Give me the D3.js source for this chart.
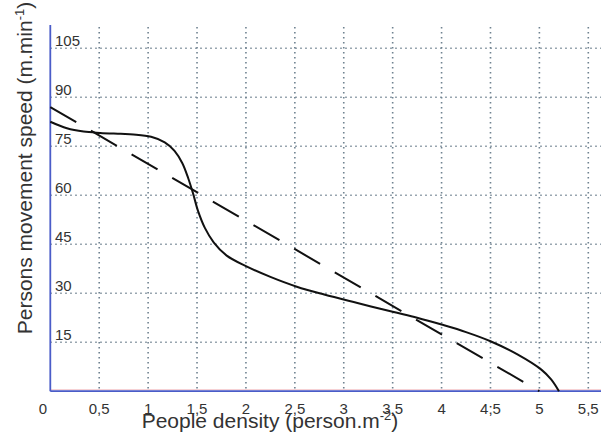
<!DOCTYPE html>
<html>
<head>
<meta charset="utf-8">
<script src="https://cdn.jsdelivr.net/npm/d3@7"></script>
<style>
  body { margin: 0; background: #fff; }
  text { font-family: "Liberation Sans", Arial, sans-serif; fill: #333; }
</style>
</head>
<body>
<div id="chart"></div>
<script>
// measured curve (people density vs movement speed)
const density = [0, 0.17, 0.34, 0.51, 0.72, 0.85, 1.03, 1.17, 1.27, 1.35, 1.41, 1.46, 1.51, 1.58, 1.67, 1.8, 2.0, 2.25, 2.52, 2.8, 3.14, 3.5, 3.75, 4.0, 4.25, 4.5, 4.78, 5.02, 5.12, 5.2];
const speed   = [82.5, 80.5, 79.5, 79.1, 78.8, 78.6, 77.9, 76.2, 73.6, 69.8, 65.2, 60.5, 55.2, 50.0, 45.6, 41.6, 38.3, 35.0, 32.0, 29.6, 27.0, 24.3, 22.5, 20.4, 18.1, 15.3, 11.2, 6.6, 3.6, 0];

// linear approximation (dashed)
const linDensity = [0, 5];
const linSpeed = [87, 0];

const xTicks = [0, 0.5, 1, 1.5, 2, 2.5, 3, 3.5, 4, 4.5, 5, 5.5];
const xTickLabels = ["0", "0,5", "1", "1,5", "2", "2,5", "3", "3,5", "4", "4;5", "5", "5,5"];
const yTicks = [15, 30, 45, 60, 75, 90, 105];

const width = 601;
const height = 434;

const svg = d3.select("#chart")
    .append("svg")
    .attr("width", width)
    .attr("height", height);

const x = d3.scaleLinear().domain([0, 5.5]).range([50.3, 588.3]);
const y = d3.scaleLinear().domain([0, 105]).range([391.2, 48.3]);

// grid
const grid = svg.append("g")
    .attr("stroke", "#6f8290")
    .attr("stroke-width", 1.6)
    .attr("stroke-dasharray", "1.4,3.6");

grid.selectAll(".vgrid")
    .data(xTicks.filter(d => d > 0))
    .enter()
    .append("line")
    .attr("x1", d => x(d))
    .attr("x2", d => x(d))
    .attr("y1", 27)
    .attr("y2", y(0));

grid.selectAll(".hgrid")
    .data(yTicks)
    .enter()
    .append("line")
    .attr("x1", x(0))
    .attr("x2", width)
    .attr("y1", d => y(d))
    .attr("y2", d => y(d));

// axis lines
svg.append("line")
    .attr("x1", x(0)).attr("x2", width)
    .attr("y1", y(0) - 1.5).attr("y2", y(0) - 1.5)
    .attr("stroke", "#f0b8bc").attr("stroke-width", 0.8);
svg.append("line")
    .attr("x1", x(0)).attr("x2", width)
    .attr("y1", y(0)).attr("y2", y(0))
    .attr("stroke", "#4a5cc8").attr("stroke-width", 1.8);
svg.append("line")
    .attr("x1", x(0)).attr("x2", x(0))
    .attr("y1", 25).attr("y2", y(0))
    .attr("stroke", "#4a5cc8").attr("stroke-width", 1.8);

// tick labels
svg.selectAll(".ylab")
    .data(yTicks)
    .enter()
    .append("text")
    .attr("x", 55)
    .attr("y", d => y(d) - 2)
    .attr("font-size", 15)
    .text(d => d);

svg.selectAll(".xlab")
    .data(xTicks)
    .enter()
    .append("text")
    .attr("x", d => d === 0 ? 43 : x(d))
    .attr("y", 414)
    .attr("font-size", 15)
    .attr("text-anchor", "middle")
    .text((d, i) => xTickLabels[i]);

// curves
const solid = d3.line()
    .x(d => x(d[0]))
    .y(d => y(d[1]))
    .curve(d3.curveCatmullRom.alpha(0.5));

svg.append("path")
    .attr("d", solid(d3.zip(density, speed)))
    .attr("fill", "none")
    .attr("stroke", "#111")
    .attr("stroke-width", 2);

svg.append("path")
    .attr("d", d3.line().x(d => x(d[0])).y(d => y(d[1]))(d3.zip(linDensity, linSpeed)))
    .attr("fill", "none")
    .attr("stroke", "#111")
    .attr("stroke-width", 2)
    .attr("stroke-dasharray", "30,17");

// axis titles
const xt = svg.append("text")
    .attr("x", 270)
    .attr("y", 428)
    .attr("font-size", 21)
    .attr("text-anchor", "middle");
xt.append("tspan").text("People density (person.m");
xt.append("tspan").attr("dy", -8).attr("font-size", 13).text("-2");
xt.append("tspan").attr("dy", 8).text(")");

const yt = svg.append("text")
    .attr("transform", "translate(32,168) rotate(-90)")
    .attr("font-size", 21)
    .attr("text-anchor", "middle");
yt.append("tspan").text("Persons movement speed (m.min");
yt.append("tspan").attr("dy", -8).attr("font-size", 13).text("-1");
yt.append("tspan").attr("dy", 8).text(")");
</script>
</body>
</html>
